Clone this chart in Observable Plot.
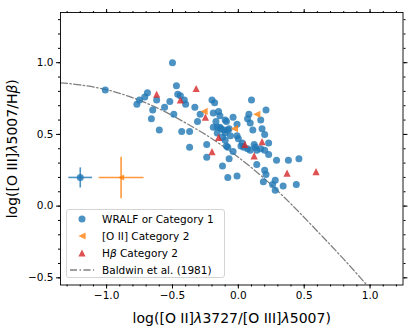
<!DOCTYPE html>
<html><head><meta charset="utf-8">
<script src="https://cdn.jsdelivr.net/npm/d3@7"></script>
<script src="https://cdn.jsdelivr.net/npm/@observablehq/plot@0.6"></script>
<style>
body{margin:0;background:#fff;}
#fig{position:relative;width:415px;height:329px;font-family:"DejaVu Sans",sans-serif;}
.legend{position:absolute;left:66px;top:209px;width:159px;height:69px;border:1px solid #d4d4d4;border-radius:3px;background:rgba(255,255,255,0.8);font-size:10.5px;color:#000;box-sizing:border-box;}
.row{position:absolute;left:0;height:14px;display:flex;align-items:center;white-space:nowrap;}
.row svg{width:30px;height:14px;margin-right:5px;}
</style>
</head><body><div id="fig"></div>
<script>
// ---- data ----
const blueX = [-0.50,-1.01,-0.47,-0.69,-0.46,-0.44,-0.71,-0.75,-0.62,-0.41,
  -0.40,-0.52,-0.77,-0.56,-0.65,-0.33,-0.20,-0.18,-0.66,-0.49,
  -0.29,-0.31,-0.19,-0.15,-0.14,-0.10,-0.09,-0.04,-0.01,-0.17,
  -0.16,-0.13,-0.11,-0.10,-0.08,-0.12,-0.06,-0.01,-0.60,-0.43,
  -0.37,-0.24,-0.37,-0.09,-0.04,-0.24,-0.07,-0.12,-0.08,-0.01,
  0.02,0.10,0.21,0.08,0.09,0.07,0.17,0.18,0.11,0.20,
  0.00,0.23,-0.10,-0.08,0.03,0.04,0.07,0.09,0.12,0.13,
  0.14,0.17,0.20,0.23,0.14,0.29,0.38,0.46,0.20,0.21,
  0.19,0.28,0.26,0.34,0.44,0.28,-0.19,-0.07,-0.16,-0.14];
const blueY = [1.00,0.81,0.84,0.79,0.78,0.77,0.76,0.74,0.74,0.74,
  0.71,0.73,0.71,0.69,0.67,0.69,0.74,0.72,0.61,0.64,
  0.64,0.59,0.65,0.66,0.63,0.60,0.59,0.62,0.57,0.59,
  0.55,0.54,0.53,0.51,0.53,0.48,0.49,0.49,0.53,0.52,
  0.52,0.43,0.41,0.42,0.38,0.34,0.33,0.28,0.20,0.21,
  0.42,0.74,0.67,0.64,0.58,0.61,0.60,0.54,0.53,0.50,
  0.47,0.44,0.46,0.41,0.44,0.41,0.40,0.39,0.43,0.41,
  0.39,0.40,0.39,0.36,0.29,0.32,0.32,0.33,0.25,0.22,
  0.17,0.18,0.15,0.14,0.15,0.11,0.55,0.54,0.51,0.55];
const oiiX = [-0.26,-0.03,0.14];
const oiiY = [0.66,0.54,0.64];
const hbX = [-0.62,-0.32,-0.44,-0.25,-0.15,-0.20,0.05,0.18,0.12,0.37,0.59];
const hbY = [0.78,0.82,0.74,0.62,0.48,0.38,0.43,0.45,0.35,0.23,0.24];
const baldwinX = [-1.35,-1.2,-1.0,-0.8,-0.6,-0.4,-0.2,0.0,0.2,0.4,0.6,0.8,0.975];
const baldwinY = [0.86,0.845,0.812,0.755,0.678,0.58,0.47,0.34,0.19,0.015,-0.175,-0.37,-0.55];
const errX = [-1.2,-0.89];
const errY = [0.2,0.2];
const errXerr = [0.09,0.17];
const errYerr = [0.07,0.145];
const errGroup = ["blue","orange"];
const xMajor = [-1.0,-0.5,0.0,0.5,1.0];
const xMinor = [-1.3,-1.2,-1.1,-1.0,-0.9,-0.8,-0.7,-0.6,-0.5,-0.4,-0.3,-0.2,-0.1,0.0,0.1,0.2,0.3,0.4,0.5,0.6,0.7,0.8,0.9,1.0,1.1,1.2];
const yMajor = [-0.5,0.0,0.5,1.0];
const yMinor = [-0.5,-0.4,-0.3,-0.2,-0.1,0.0,0.1,0.2,0.3,0.4,0.5,0.6,0.7,0.8,0.9,1.0,1.1,1.2,1.3];
const xLabel = "log([O II]λ3727/[O III]λ5007)";
const yLabel = "log([O III]λ5007/Hβ)";
const legendLabels = ["WRALF or Category 1","[O II] Category 2","H<i>β</i> Category 2","Baldwin et al. (1981)"];

const BLUE = "#1f77b4", ORANGE = "#ff7f0e", RED = "#d62728", GRAY = "#808080";

// ---- symbols (matplotlib-like) ----
const triUp = {draw(c, size){const h=Math.sqrt(size/Math.PI); c.moveTo(0,-h); c.lineTo(h,h); c.lineTo(-h,h); c.closePath();}};
const triLeft = {draw(c, size){const h=Math.sqrt(size/Math.PI); c.moveTo(-h,0); c.lineTo(h,-h); c.lineTo(h,h); c.closePath();}};

const blue = blueX.map((x,i)=>({x, y: blueY[i]}));
const oii = oiiX.map((x,i)=>({x, y: oiiY[i]}));
const hb = hbX.map((x,i)=>({x, y: hbY[i]}));
const baldwin = baldwinX.map((x,i)=>({x, y: baldwinY[i]}));
const errs = errX.map((x,i)=>({x, y: errY[i], xe: errXerr[i], ye: errYerr[i], g: errGroup[i]}));
const errColor = d => d.g === "blue" ? BLUE : ORANGE;

const fmt = d3.format(".1f");
const blank = () => "";

const chart = Plot.plot({
  width: 415, height: 329,
  marginLeft: 60, marginRight: 12.5, marginTop: 12, marginBottom: 44.5,
  x: {domain: [-1.35, 1.25]},
  y: {domain: [-0.55, 1.35]},
  style: {fontFamily: "DejaVu Sans", fontSize: "10.5px", color: "#000", background: "#fff"},
  marks: [
    Plot.line(baldwin, {x: "x", y: "y", curve: "natural", stroke: GRAY, strokeWidth: 1.3, strokeDasharray: "7,2.5,1.5,2.5", clip: true}),
    Plot.link(errs, {x1: d => d.x - d.xe, x2: d => d.x + d.xe, y1: "y", y2: "y", stroke: errColor, strokeWidth: 1.6, strokeOpacity: 0.8}),
    Plot.link(errs, {x1: "x", x2: "x", y1: d => d.y - d.ye, y2: d => d.y + d.ye, stroke: errColor, strokeWidth: 1.6, strokeOpacity: 0.8}),
    Plot.dot(errs.filter(d => d.g === "blue"), {x: "x", y: "y", r: 3.5, fill: BLUE, fillOpacity: 0.8, stroke: null}),
    Plot.dot(errs.filter(d => d.g === "orange"), {x: "x", y: "y", r: 3, symbol: triLeft, fill: ORANGE, fillOpacity: 0.8, stroke: null}),
    Plot.dot(blue, {x: "x", y: "y", r: 3.5, fill: BLUE, fillOpacity: 0.8, stroke: null}),
    Plot.dot(oii, {x: "x", y: "y", r: 3.6, symbol: triLeft, fill: ORANGE, fillOpacity: 0.8, stroke: null}),
    Plot.dot(hb, {x: "x", y: "y", r: 3.6, symbol: triUp, fill: RED, fillOpacity: 0.8, stroke: null}),
    Plot.frame({stroke: "#000", strokeWidth: 0.9}),
    Plot.axisX({anchor: "bottom", ticks: xMajor, tickSize: 4, tickPadding: 3, tickFormat: fmt, fontSize: 10.5,
      label: xLabel, labelAnchor: "center", labelOffset: 38, labelArrow: "none"}),
    Plot.axisX({anchor: "bottom", ticks: xMinor, tickSize: 2, tickFormat: blank, label: null}),
    Plot.axisX({anchor: "top", ticks: xMajor, tickSize: 4, tickFormat: blank, label: null}),
    Plot.axisX({anchor: "top", ticks: xMinor, tickSize: 2, tickFormat: blank, label: null}),
    Plot.axisY({anchor: "left", ticks: yMajor, tickSize: 4, tickPadding: 3, tickFormat: fmt, fontSize: 10.5,
      label: yLabel, labelAnchor: "center", labelOffset: 53, labelArrow: "none"}),
    Plot.axisY({anchor: "left", ticks: yMinor, tickSize: 2, tickFormat: blank, label: null}),
    Plot.axisY({anchor: "right", ticks: yMajor, tickSize: 4, tickFormat: blank, label: null}),
    Plot.axisY({anchor: "right", ticks: yMinor, tickSize: 2, tickFormat: blank, label: null})
  ]
});

// italic greek letters in axis labels (mathtext style)
d3.select(chart).selectAll("text").each(function(){
  const t = this.textContent;
  if (t === xLabel || t === yLabel) {
    const parts = t.split(/([λβ])/);
    const sel = d3.select(this);
    sel.text(null);
    parts.forEach(p => { if (!p) return; const ts = sel.append("tspan").text(p); if (p === "λ" || p === "β") ts.attr("font-style","italic"); });
    sel.attr("font-size", 14);
  }
});

const fig = document.getElementById("fig");
fig.appendChild(chart);

// legend
const leg = document.createElement("div");
leg.className = "legend";
const rowTops = [2, 19, 36, 53];
const sym = [
  '<circle cx="15" cy="7" r="3.5" fill="'+BLUE+'" fill-opacity="0.8"/>',
  '<path d="M11.4,7L18.6,3.4L18.6,10.6Z" fill="'+ORANGE+'" fill-opacity="0.8"/>',
  '<path d="M15,3.4L18.6,10.6L11.4,10.6Z" fill="'+RED+'" fill-opacity="0.8"/>',
  '<line x1="3" x2="27" y1="7" y2="7" stroke="'+GRAY+'" stroke-width="1.3" stroke-dasharray="7,2.5,1.5,2.5"/>'
];
legendLabels.forEach((lab, i) => {
  const r = document.createElement("div");
  r.className = "row";
  r.style.top = rowTops[i] + "px";
  r.innerHTML = '<svg viewBox="0 0 30 14">' + sym[i] + '</svg><span>' + lab + '</span>';
  leg.appendChild(r);
});
fig.appendChild(leg);
</script>
</body></html>
